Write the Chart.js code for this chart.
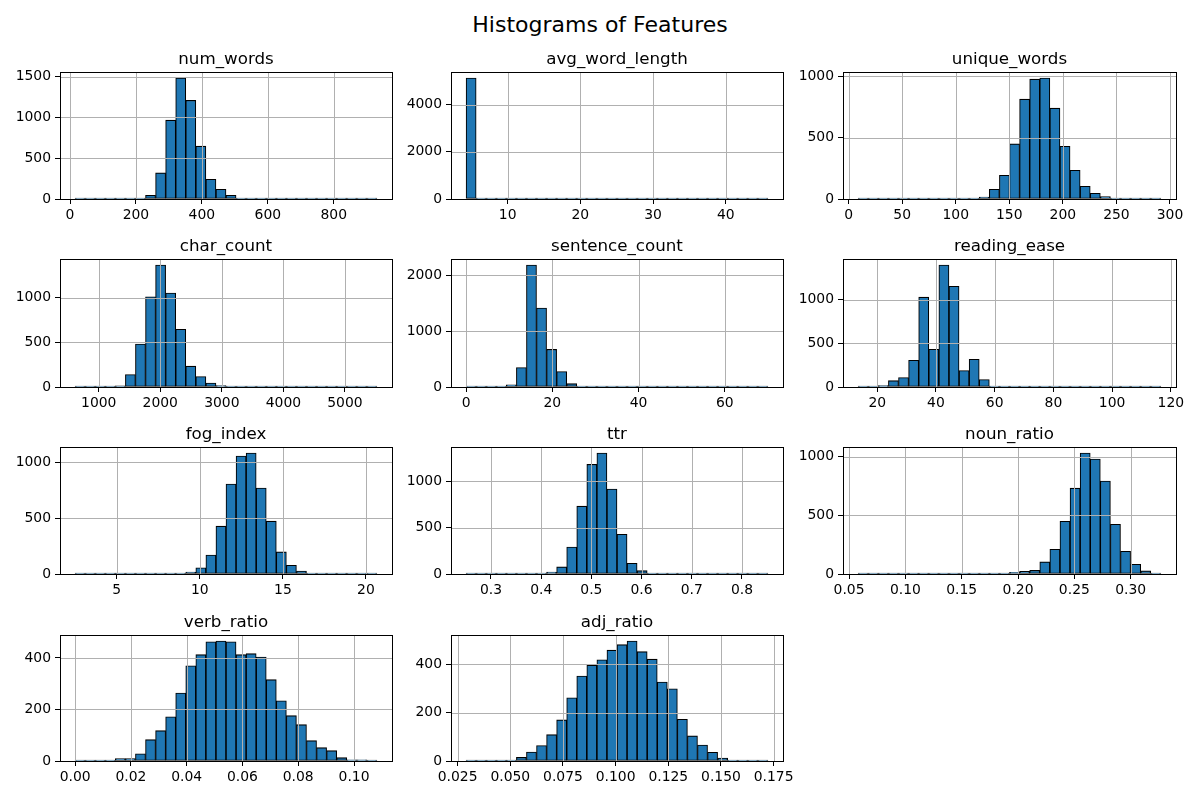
<!DOCTYPE html>
<html>
<head>
<meta charset="utf-8">
<script src="https://cdn.jsdelivr.net/npm/chart.js@4.4.1/dist/chart.umd.min.js"></script>
<style>
  body { margin: 0; background: #fff; }
  #page { position: relative; width: 1200px; height: 800px; overflow: hidden; }
  #suptitle { position: absolute; left: 0; top: 11px; width: 1200px; text-align: center;
              font: 22px "DejaVu Sans", sans-serif; line-height: 28px; color: #000; }
  canvas { position: absolute; }
</style>
</head>
<body>
<div id="page">
  <div id="suptitle">Histograms of Features</div>
</div>
<script>
// feature names, one subplot each
const features = ['num_words', 'avg_word_length', 'unique_words', 'char_count', 'sentence_count',
                  'reading_ease', 'fog_index', 'ttr', 'noun_ratio', 'verb_ratio', 'adj_ratio'];

// bin counts (30 bins each)
const numWords = [1,8,8,8,8,3,10,45,320,967,1484,1210,648,242,119,45,8,5,4,1,1,0,0,0,0,0,0,0,0,1];
const avgWordLength = [5134,40,3,1,0,0,1,0,0,0,0,0,0,0,0,0,0,0,0,0,0,0,0,0,0,0,0,0,0,1];
const uniqueWords = [1,0,0,0,1,5,5,5,5,1,5,6,16,79,193,448,812,975,984,739,429,234,103,46,19,6,5,4,1,1];
const charCount = [1,1,2,10,12,139,481,1011,1365,1053,647,233,117,45,15,10,1,1,1,0,0,0,0,0,0,0,0,0,0,1];
const sentenceCount = [1,0,2,15,40,348,2180,1411,673,276,60,15,15,10,1,1,0,0,0,0,0,0,0,0,0,0,0,0,0,1];
const readingEase = [2,3,15,73,108,305,1027,432,1394,1151,189,317,85,1,0,0,0,0,0,0,0,0,0,0,0,0,0,0,0,1];
const fogIndex = [1,0,0,0,0,0,0,0,0,3,8,18,55,170,427,803,1054,1080,767,472,197,78,27,8,5,1,1,0,0,1];
const ttr = [1,0,0,0,0,0,1,8,20,76,291,730,1180,1302,914,428,115,36,8,1,5,5,1,1,0,0,0,0,0,1];
const nounRatio = [1,0,0,0,0,0,0,0,0,0,0,0,0,0,0,14,23,31,103,211,450,732,1031,980,792,424,194,83,26,7];
const verbRatio = [1,0,0,0,9,9,28,83,118,172,264,370,413,463,466,463,413,417,404,316,234,176,141,79,52,40,13,5,5,4];
const adjRatio = [1,0,0,0,0,15,37,64,109,170,262,352,397,419,459,482,497,453,422,327,299,173,104,66,36,12,4,4,1,1];

const counts = [numWords, avgWordLength, uniqueWords, charCount, sentenceCount,
                readingEase, fogIndex, ttr, nounRatio, verbRatio, adjRatio];

// data min / max of each feature (bin edges span these)
const binRanges = [[15.4, 931], [4.28, 45.8], [8.9, 291.5], [616, 5519], [0, 70], [13.5, 116.6],
                   [2.49, 20.66], [0.2504, 0.8517], [0.0581, 0.3268], [0, 0.1082], [0.029, 0.1723]];

// tick labels
const xTickLabels = [
  ['0', '200', '400', '600', '800'],
  ['10', '20', '30', '40'],
  ['0', '50', '100', '150', '200', '250', '300'],
  ['1000', '2000', '3000', '4000', '5000'],
  ['0', '20', '40', '60'],
  ['20', '40', '60', '80', '100', '120'],
  ['5', '10', '15', '20'],
  ['0.3', '0.4', '0.5', '0.6', '0.7', '0.8'],
  ['0.05', '0.10', '0.15', '0.20', '0.25', '0.30'],
  ['0.00', '0.02', '0.04', '0.06', '0.08', '0.10'],
  ['0.025', '0.050', '0.075', '0.100', '0.125', '0.150', '0.175']
];
const yTickLabels = [
  ['0', '500', '1000', '1500'],
  ['0', '2000', '4000'],
  ['0', '500', '1000'],
  ['0', '500', '1000'],
  ['0', '1000', '2000'],
  ['0', '500', '1000'],
  ['0', '500', '1000'],
  ['0', '500', '1000'],
  ['0', '500', '1000'],
  ['0', '200', '400'],
  ['0', '200', '400']
];

// plot boxes of the 4x3 grid
const colLeft = [60, 451, 843];
const colRight = [392, 783, 1176];
const rowTop = [72, 259, 447, 635];
const rowBottom = [199, 387, 574, 761];

const FONT = '"DejaVu Sans", sans-serif';

// matplotlib draws grid lines over the bars, plus a full frame and the title
const frameAndGrid = {
  id: 'frameAndGrid',
  afterDatasetsDraw(chart, args, opts) {
    const { ctx, chartArea: a, scales: { x, y } } = chart;
    ctx.save();
    ctx.strokeStyle = '#b0b0b0';
    ctx.lineWidth = 1;
    ctx.beginPath();
    x.ticks.forEach(t => {
      const px = Math.round(x.getPixelForValue(t.value)) + 0.5;
      ctx.moveTo(px, a.top); ctx.lineTo(px, a.bottom);
    });
    y.ticks.forEach(t => {
      const py = Math.round(y.getPixelForValue(t.value)) + 0.5;
      ctx.moveTo(a.left, py); ctx.lineTo(a.right, py);
    });
    ctx.stroke();
    ctx.strokeStyle = '#000';
    ctx.lineWidth = 1;
    ctx.strokeRect(a.left + 0.5, a.top + 0.5, a.right - a.left, a.bottom - a.top);
    ctx.fillStyle = '#000';
    ctx.font = '16.7px ' + FONT;
    ctx.textAlign = 'center';
    ctx.textBaseline = 'alphabetic';
    ctx.fillText(opts.text, (a.left + a.right) / 2, a.top - 8);
    ctx.restore();
  }
};

const page = document.getElementById('page');

features.forEach((name, i) => {
  const col = i % 3, row = Math.floor(i / 3);
  const L = colLeft[col], R = colRight[col], T = rowTop[row], B = rowBottom[row];
  const canvas = document.createElement('canvas');
  const w = R - L + 90, h = B - T + 64;
  canvas.width = w; canvas.height = h;
  canvas.style.left = (L - 60) + 'px';
  canvas.style.top = (T - 34) + 'px';
  canvas.style.width = w + 'px';
  canvas.style.height = h + 'px';
  page.appendChild(canvas);

  const [lo, hi] = binRanges[i];
  const bins = counts[i];
  const binW = (hi - lo) / bins.length;
  const span = hi - lo;
  const pts = bins.map((c, k) => ({ x: lo + (k + 0.5) * binW, y: c }));
  const xVals = xTickLabels[i].map(Number);
  const yVals = yTickLabels[i].map(Number);
  const yMax = Math.max(...bins) * 1.05;

  new Chart(canvas, {
    type: 'bar',
    data: {
      datasets: [{
        data: pts,
        backgroundColor: '#1f77b4',
        borderColor: '#000',
        borderWidth: 1.1,
        borderSkipped: false,
        minBarLength: 1,
        barPercentage: 1,
        categoryPercentage: 1
      }]
    },
    plugins: [frameAndGrid],
    options: {
      responsive: false,
      animation: false,
      layout: { padding: { top: 34, right: 30, left: 0, bottom: 0 } },
      plugins: {
        legend: { display: false },
        tooltip: { enabled: false },
        frameAndGrid: { text: name }
      },
      scales: {
        x: {
          type: 'linear',
          offset: false,
          min: lo - 0.05 * span,
          max: hi + 0.05 * span,
          afterBuildTicks: axis => { axis.ticks = xVals.map(v => ({ value: v })); },
          afterFit: scale => { scale.height = 30; },
          grid: { offset: false, drawOnChartArea: false, drawTicks: true, tickLength: 5, tickColor: '#000', tickWidth: 1 },
          border: { display: false },
          ticks: {
            autoSkip: false, maxRotation: 0, padding: 3, color: '#000',
            font: { family: FONT, size: 13.9 },
            callback: (v, k) => xTickLabels[i][k]
          }
        },
        y: {
          min: 0,
          max: yMax,
          afterBuildTicks: axis => { axis.ticks = yVals.map(v => ({ value: v })); },
          afterFit: scale => { scale.width = 60; },
          grid: { offset: false, drawOnChartArea: false, drawTicks: true, tickLength: 5, tickColor: '#000', tickWidth: 1 },
          border: { display: false },
          ticks: {
            padding: 4, color: '#000',
            font: { family: FONT, size: 13.9 },
            callback: (v, k) => yTickLabels[i][k]
          }
        }
      }
    }
  });
});
</script>
</body>
</html>
